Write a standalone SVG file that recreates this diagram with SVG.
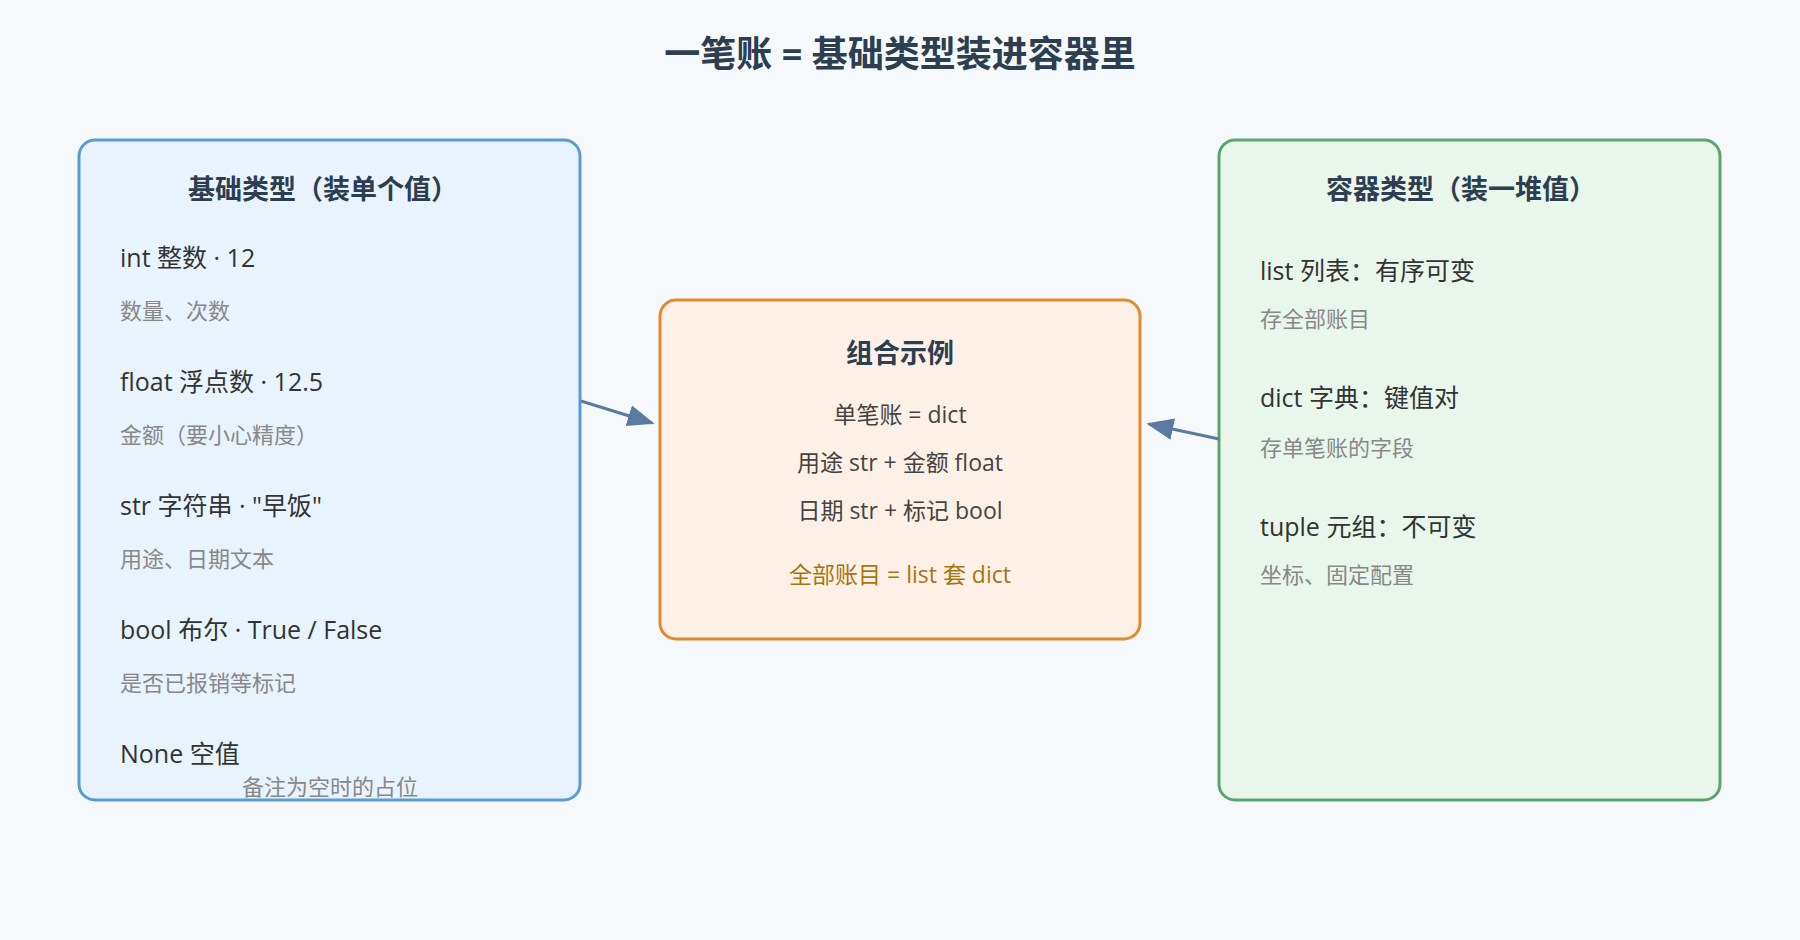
<svg xmlns="http://www.w3.org/2000/svg" width="1800" height="940" viewBox="0 0 1800 940">
<defs>
<style>
text{font-family:"Open Sans","Noto Sans CJK SC",sans-serif;}
.t{font-size:36px;font-weight:bold;fill:#2c3e50;text-anchor:middle}
.h{font-size:27px;font-weight:bold;fill:#2c3e50;text-anchor:middle}
.i{font-size:25px;fill:#333}
.s{font-size:22px;fill:#888}
.c{font-size:23px;fill:#444;text-anchor:middle}
.o{fill:#a87510}
.box{stroke-width:3}
.conn{stroke:#5a7aa0;stroke-width:3;fill:none}
</style>
<marker id="a" viewBox="0 0 10 10" refX="9" refY="5" markerWidth="9" markerHeight="9" orient="auto"><path d="M0,1 L10,5 L0,9 z" fill="#5a7aa0"/></marker>
</defs>
<rect width="1800" height="940" fill="#f5f9fc"/>
<text class="t" x="900" y="67">一笔账 = 基础类型装进容器里</text>
<g id="basic">
<rect class="box" x="79" y="140" width="501" height="660" rx="16" fill="#e8f3fd" stroke="#5b9bd5"/>
<text class="h" x="323" y="199">基础类型（装单个值）</text>
<text class="i" x="120" y="267">int 整数 · 12</text>
<text class="s" x="120" y="319">数量、次数</text>
<text class="i" x="120" y="391">float 浮点数 · 12.5</text>
<text class="s" x="120" y="443">金额（要小心精度）</text>
<text class="i" x="120" y="515">str 字符串 · "早饭"</text>
<text class="s" x="120" y="567">用途、日期文本</text>
<text class="i" x="120" y="639">bool 布尔 · True / False</text>
<text class="s" x="120" y="691">是否已报销等标记</text>
<text class="i" x="120" y="763">None 空值</text>
<text class="s" x="330" y="795" text-anchor="middle">备注为空时的占位</text>
</g>
<g id="example">
<rect class="box" x="660" y="300" width="480" height="339" rx="16" fill="#fdf0e6" stroke="#e08a30"/>
<text class="h" x="900" y="363">组合示例</text>
<text class="c" x="900" y="423">单笔账 = dict</text>
<text class="c" x="900" y="471">用途 str + 金额 float</text>
<text class="c" x="900" y="519">日期 str + 标记 bool</text>
<text class="c o" x="900" y="583">全部账目 = list 套 dict</text>
</g>
<g id="container">
<rect class="box" x="1219" y="140" width="501" height="660" rx="16" fill="#e9f6ec" stroke="#5aa56e"/>
<text class="h" x="1461" y="199">容器类型（装一堆值）</text>
<text class="i" x="1260" y="280">list 列表：有序可变</text>
<text class="s" x="1260" y="327">存全部账目</text>
<text class="i" x="1260" y="407">dict 字典：键值对</text>
<text class="s" x="1260" y="456">存单笔账的字段</text>
<text class="i" x="1260" y="536">tuple 元组：不可变</text>
<text class="s" x="1260" y="583">坐标、固定配置</text>
</g>
<g id="connectors">
<line class="conn" x1="581" y1="401" x2="652" y2="423" marker-end="url(#a)"/>
<line class="conn" x1="1219" y1="439" x2="1149" y2="424" marker-end="url(#a)"/>
</g>
</svg>
